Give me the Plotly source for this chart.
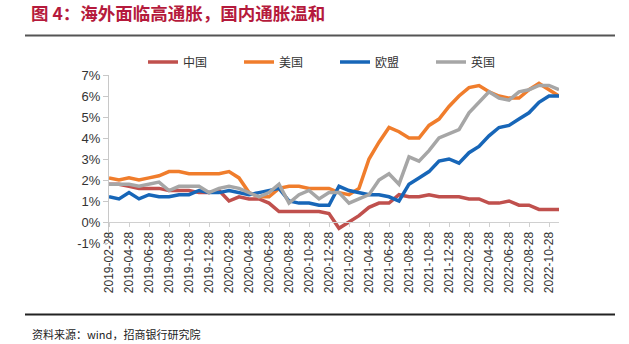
import pandas as pd
import plotly.graph_objects as go

# Monthly observations, 2019-02 .. 2022-11 (labelled on the 28th)
months = [p.strftime("%Y-%m-28") for p in pd.period_range("2019-02", "2022-11", freq="M")]

china = [1.8, 1.8, 1.7, 1.6, 1.6, 1.6, 1.5, 1.5, 1.5, 1.4, 1.4, 1.5,
         1.0, 1.2, 1.1, 1.1, 0.9, 0.5, 0.5, 0.5, 0.5, 0.5, 0.4, -0.3,
         0.0, 0.3, 0.7, 0.9, 0.9, 1.3, 1.2, 1.2, 1.3, 1.2, 1.2, 1.2,
         1.1, 1.1, 0.9, 0.9, 1.0, 0.8, 0.8, 0.6, 0.6, 0.6]
usa = [2.1, 2.0, 2.1, 2.0, 2.1, 2.2, 2.4, 2.4, 2.3, 2.3, 2.3, 2.3,
       2.4, 2.1, 1.4, 1.2, 1.2, 1.6, 1.7, 1.7, 1.6, 1.6, 1.6, 1.4,
       1.3, 1.6, 3.0, 3.8, 4.5, 4.3, 4.0, 4.0, 4.6, 4.9, 5.5, 6.0,
       6.4, 6.5, 6.2, 6.0, 5.9, 5.9, 6.3, 6.6, 6.3, 6.0]
eu = [1.2, 1.1, 1.4, 1.1, 1.3, 1.2, 1.2, 1.3, 1.3, 1.5, 1.4, 1.4,
      1.5, 1.4, 1.3, 1.4, 1.5, 1.6, 1.0, 0.9, 0.9, 0.8, 0.8, 1.7,
      1.5, 1.4, 1.3, 1.3, 1.2, 1.0, 1.8, 2.1, 2.4, 2.9, 3.0, 2.8,
      3.3, 3.6, 4.1, 4.5, 4.6, 4.9, 5.2, 5.7, 6.0, 6.0]
uk = [1.8, 1.8, 1.8, 1.7, 1.8, 1.9, 1.5, 1.7, 1.7, 1.7, 1.4, 1.6,
      1.7, 1.6, 1.4, 1.2, 1.4, 1.8, 0.9, 1.3, 1.5, 1.1, 1.4, 1.4,
      0.9, 1.1, 1.3, 2.0, 2.3, 1.8, 3.1, 2.9, 3.4, 4.0, 4.2, 4.4,
      5.2, 5.7, 6.2, 5.9, 5.8, 6.2, 6.3, 6.5, 6.5, 6.3]

series_names = ["中国", "美国", "欧盟", "英国"]
series_colors = ["#C0504D", "#F07D2C", "#1766B8", "#A6A6A6"]
y_ticks = [-1, 0, 1, 2, 3, 4, 5, 6, 7]
y_labels = [f"{v}%" for v in y_ticks]

# Canvas and plotting-area edges in pixels; the paper spans the whole canvas
W, H = 629, 344
plot_left, plot_right, plot_top, plot_bottom = 109, 559, 75, 243


def fx(x):
    return x / W


def fy(y):
    return 1 - y / H


y_dom = [fy(plot_bottom), fy(plot_top)]
zero_pos = y_dom[0] + (y_dom[1] - y_dom[0]) * (0 - min(y_ticks)) / (max(y_ticks) - min(y_ticks))

fig = go.Figure()
for name, vals, col in zip(series_names, [china, usa, eu, uk], series_colors):
    fig.add_trace(go.Scatter(x=months, y=vals, mode="lines", name=name,
                             line=dict(color=col, width=3.5)))

axis_font = dict(family="Liberation Sans, Arial, sans-serif", size=12, color="#333333")
cjk = "Noto Sans CJK SC, sans-serif"

fig.update_layout(
    width=W, height=H,
    margin=dict(l=0, r=0, t=0, b=0, autoexpand=False),
    paper_bgcolor="white", plot_bgcolor="white",
    showlegend=True,
    legend=dict(orientation="h", xref="container", yref="container",
                x=fx(143), xanchor="left", y=fy(62), yanchor="middle",
                entrywidth=51, entrywidthmode="pixels",
                font=dict(family=cjk, size=12, color="#333333"),
                bgcolor="rgba(0,0,0,0)", itemclick=False),
    title=dict(text="<b>图 4：海外面临高通胀，国内通胀温和</b>",
               xref="container", yref="container",
               x=fx(31), xanchor="left", y=fy(14), yanchor="middle",
               font=dict(family=cjk, size=17.5, color="#B51A3C")),
    xaxis=dict(type="category", range=[0, len(months) - 1],
               domain=[fx(plot_left), fx(plot_right)],
               anchor="free", position=zero_pos,
               showline=True, linecolor="#D0D0D0", linewidth=1,
               ticks="outside", ticklen=4, tickcolor="#D0D0D0",
               tickvals=months[::2], ticktext=months[::2], tickangle=-90,
               showgrid=False, zeroline=False, tickfont=axis_font),
    yaxis=dict(range=[min(y_ticks), max(y_ticks)], domain=y_dom,
               tickvals=y_ticks, ticktext=y_labels,
               showline=True, linecolor="#C8C8C8", linewidth=1,
               ticks="outside", ticklen=5, tickcolor="#C8C8C8",
               showgrid=False, zeroline=False,
               tickfont=dict(family="Liberation Sans, Arial, sans-serif", size=13, color="#333333")),
)

# Horizontal rules under the title and above the source note
for y_px, col in [(35.5, "#555555"), (314.5, "#222222")]:
    fig.add_shape(type="line", xref="paper", yref="paper",
                  x0=fx(25), x1=fx(615), y0=fy(y_px), y1=fy(y_px),
                  line=dict(color=col, width=2))

fig.add_annotation(text="资料来源：wind，招商银行研究院", xref="paper", yref="paper",
                   x=fx(30), y=fy(334), xanchor="left", yanchor="middle", showarrow=False,
                   font=dict(family=cjk, size=11, color="#222222"))

fig.write_html("out.html")
